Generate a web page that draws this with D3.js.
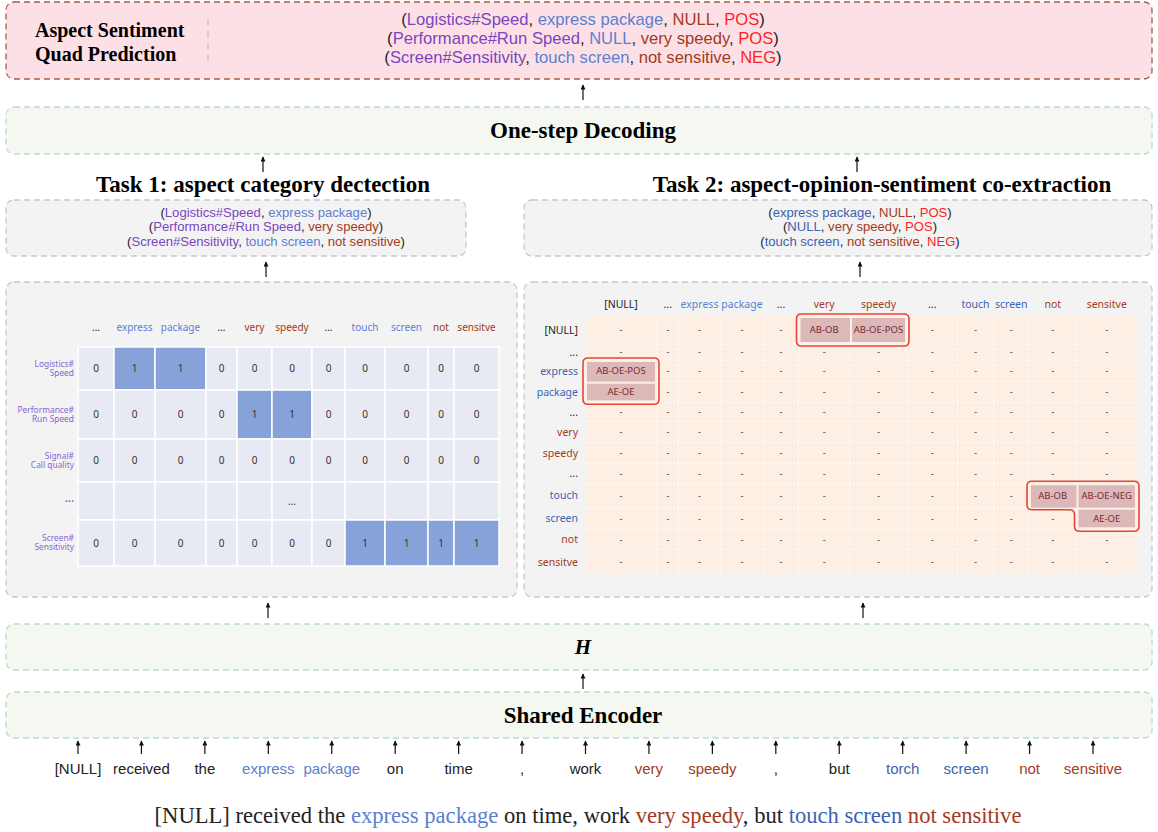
<!DOCTYPE html>
<html lang="en">
<head>
<meta charset="UTF-8">
<title>Aspect Sentiment Quad Prediction</title>
<script src="https://d3js.org/d3.v7.min.js"></script>
<style>
    body { margin: 0; background: #fff; }
    svg { display: block; }
    .serif { font-family: 'Liberation Serif', 'Times New Roman', serif; }
    .sans { font-family: 'Liberation Sans', Arial, sans-serif; }
    .cell { font-family: 'Noto Sans', 'Liberation Sans', sans-serif; }
</style>
</head>
<body>
<div id="chart"></div>
<script>
    // ---- data ----
    const quadLines = [
        [['(', 'k'], ['Logistics#Speed', 'p'], [', ', 'k'], ['express package', 'b'], [', ', 'k'], ['NULL', 'r'], [', ', 'k'], ['POS', 's'], [')', 'k']],
        [['(', 'k'], ['Performance#Run Speed', 'p'], [', ', 'k'], ['NULL', 'b'], [', ', 'k'], ['very speedy', 'r'], [', ', 'k'], ['POS', 's'], [')', 'k']],
        [['(', 'k'], ['Screen#Sensitivity', 'p'], [', ', 'k'], ['touch screen', 'b'], [', ', 'k'], ['not sensitive', 'r'], [', ', 'k'], ['NEG', 's'], [')', 'k']]
    ];
    const task1Lines = [
        [['(', 'k'], ['Logistics#Speed', 'p'], [', ', 'k'], ['express package', 'b'], [')', 'k']],
        [['(', 'k'], ['Performance#Run Speed', 'p'], [', ', 'k'], ['very speedy', 'r'], [')', 'k']],
        [['(', 'k'], ['Screen#Sensitivity', 'p'], [', ', 'k'], ['touch screen', 'b'], [', ', 'k'], ['not sensitive', 'r'], [')', 'k']]
    ];
    const task2Lines = [
        [['(', 'k'], ['express package', 'd'], [', ', 'k'], ['NULL', 'r'], [', ', 'k'], ['POS', 's'], [')', 'k']],
        [['(', 'k'], ['NULL', 'd'], [', ', 'k'], ['very speedy', 'r'], [', ', 'k'], ['POS', 's'], [')', 'k']],
        [['(', 'k'], ['touch screen', 'd'], [', ', 'k'], ['not sensitive', 'r'], [', ', 'k'], ['NEG', 's'], [')', 'k']]
    ];

    const t1Cols = ['...', 'express', 'package', '...', 'very', 'speedy', '...', 'touch', 'screen', 'not', 'sensitve'];
    const t1ColKinds = ['k', 'b', 'b', 'k', 'r', 'r', 'k', 'b', 'b', 'r', 'r'];
    const t1Rows = [['Logistics#', 'Speed'], ['Performance#', 'Run Speed'], ['Signal#', 'Call quality'], ['...'], ['Screen#', 'Sensitivity']];
    const t1Values = [
        [0, 1, 1, 0, 0, 0, 0, 0, 0, 0, 0],
        [0, 0, 0, 0, 1, 1, 0, 0, 0, 0, 0],
        [0, 0, 0, 0, 0, 0, 0, 0, 0, 0, 0],
        [null, null, null, null, null, '...', null, null, null, null, null],
        [0, 0, 0, 0, 0, 0, 0, 1, 1, 1, 1]
    ];

    const t2Cols = ['[NULL]', '...', 'express', 'package', '...', 'very', 'speedy', '...', 'touch', 'screen', 'not', 'sensitve'];
    const t2ColKinds = ['k', 'k', 'b', 'b', 'k', 'r', 'r', 'k', 'd', 'd', 'r', 'r'];
    const t2Rows = ['[NULL]', '...', 'express', 'package', '...', 'very', 'speedy', '...', 'touch', 'screen', 'not', 'sensitve'];
    const t2RowKinds = ['k', 'k', 'd', 'd', 'k', 'r', 'r', 'k', 'd', 'd', 'r', 'r'];
    const t2Tags = [
        { row: 0, col: 5, tag: 'AB-OB' },
        { row: 0, col: 6, tag: 'AB-OE-POS' },
        { row: 2, col: 0, tag: 'AB-OE-POS' },
        { row: 3, col: 0, tag: 'AE-OE' },
        { row: 8, col: 10, tag: 'AB-OB' },
        { row: 8, col: 11, tag: 'AB-OE-NEG' },
        { row: 9, col: 11, tag: 'AE-OE' }
    ];

    const tokens = ['[NULL]', 'received', 'the', 'express', 'package', 'on', 'time', ',', 'work', 'very', 'speedy', ',', 'but', 'torch', 'screen', 'not', 'sensitive'];
    const tokenKinds = ['k', 'k', 'k', 'b', 'b', 'k', 'k', 'k', 'k', 'r', 'r', 'k', 'k', 'd', 'd', 'r', 'r'];
    const sentence = [['[NULL] received the ', 'k'], ['express package', 'b'], [' on time, work ', 'k'], ['very speedy', 'r'], [', but ', 'k'], ['touch screen', 'd'], [' not sensitive', 'r']];

    // ---- styles ----
    const colors = { k: '#222', p: '#7b45c0', b: '#5b80d0', d: '#3d62b0', r: '#a23a22', s: '#ff1f1f' };
    const W = 1158, H = 832;

    const svg = d3.select('#chart').append('svg').attr('width', W).attr('height', H);
    const defs = svg.append('defs');
    defs.append('marker')
        .attr('id', 'head').attr('viewBox', '0 0 10 10').attr('refX', 9).attr('refY', 5)
        .attr('markerWidth', 6).attr('markerHeight', 5).attr('orient', 'auto')
        .attr('markerUnits', 'userSpaceOnUse')
        .append('path').attr('d', 'M0,0 L10,5 L0,10 Z').attr('fill', '#111');

    function box(x, y, w, h, fill, stroke, dash) {
        svg.append('rect').attr('x', x).attr('y', y).attr('width', w).attr('height', h)
            .attr('rx', 8).attr('fill', fill).attr('stroke', stroke).attr('stroke-width', 1.3)
            .attr('stroke-dasharray', dash);
    }
    function arrow(x, y1, y2) {
        svg.append('line').attr('x1', x).attr('x2', x).attr('y1', y1).attr('y2', y2)
            .attr('stroke', '#111').attr('stroke-width', 1.2).attr('marker-end', 'url(#head)');
    }
    function richText(parent, x, y, parts, size, cls) {
        const t = parent.append('text').attr('class', cls).attr('x', x).attr('y', y)
            .attr('text-anchor', 'middle').style('font-size', size + 'px').attr('xml:space', 'preserve');
        parts.forEach(([s, k]) => t.append('tspan').attr('fill', colors[k]).text(s));
        return t;
    }
    function title(x, y, s, size, italic) {
        svg.append('text').attr('class', 'serif').attr('x', x).attr('y', y).attr('text-anchor', 'middle')
            .style('font-size', size + 'px').style('font-weight', 'bold')
            .style('font-style', italic ? 'italic' : 'normal').attr('fill', '#000').text(s);
    }

    // ---- top quad box ----
    box(6, 2, 1146, 77, '#fde0e6', '#a0604a', '6,4');
    svg.append('text').attr('class', 'serif').attr('x', 35).attr('y', 37).style('font-size', '20px')
        .style('font-weight', 'bold').text('Aspect Sentiment');
    svg.append('text').attr('class', 'serif').attr('x', 35).attr('y', 61).style('font-size', '20px')
        .style('font-weight', 'bold').text('Quad Prediction');
    svg.append('line').attr('x1', 208).attr('x2', 208).attr('y1', 19).attr('y2', 61)
        .attr('stroke', '#d9a898').attr('stroke-width', 1).attr('stroke-dasharray', '7,5');
    quadLines.forEach((ln, i) => richText(svg, 583, 25 + i * 19, ln, 16.6, 'sans'));
    arrow(583, 100, 85);

    // ---- one-step decoding ----
    box(6, 107, 1146, 47, '#f5f8f0', '#bcdccb', '6,4');
    title(583, 138, 'One-step Decoding', 23);
    arrow(263, 172, 157);
    arrow(857, 172, 157);
    title(263, 192, 'Task 1: aspect category dectection', 23);
    title(882, 192, 'Task 2: aspect-opinion-sentiment co-extraction', 23);

    // ---- task output boxes ----
    box(6, 200, 460, 56, '#f3f3f3', '#c8c8c8', '6,4');
    box(524, 200, 628, 56, '#f3f3f3', '#c8c8c8', '6,4');
    task1Lines.forEach((ln, i) => richText(svg, 266, 216.5 + i * 14.5, ln, 13.1, 'sans'));
    task2Lines.forEach((ln, i) => richText(svg, 860, 216.5 + i * 14.5, ln, 13.1, 'sans'));
    arrow(266, 277, 262);
    arrow(860, 277, 262);

    // ---- grid panels ----
    box(6, 282, 511, 315, '#f3f3f3', '#c8c8c8', '6,4');
    box(524, 282, 628, 315, '#f3f3f3', '#c8c8c8', '6,4');

    // Task 1 grid: column / row edges (layout)
    const t1ColEdges = [78, 114, 155, 206, 237, 272, 312, 345, 385, 428, 454, 499];
    const t1RowEdges = [347, 390, 439, 482, 520, 566];
    const g1 = svg.append('g');
    const t1Cells = [];
    t1Values.forEach((row, r) => row.forEach((v, c) => t1Cells.push({ r, c, v })));
    g1.selectAll('rect').data(t1Cells).join('rect')
        .attr('x', d => t1ColEdges[d.c]).attr('y', d => t1RowEdges[d.r])
        .attr('width', d => t1ColEdges[d.c + 1] - t1ColEdges[d.c])
        .attr('height', d => t1RowEdges[d.r + 1] - t1RowEdges[d.r])
        .attr('fill', d => d.v === 1 ? '#87a1d9' : '#e8eaf3')
        .attr('stroke', '#fff').attr('stroke-width', 1.5);
    g1.selectAll('text.v').data(t1Cells.filter(d => d.v !== null)).join('text')
        .attr('class', 'v cell')
        .attr('x', d => (t1ColEdges[d.c] + t1ColEdges[d.c + 1]) / 2)
        .attr('y', d => (t1RowEdges[d.r] + t1RowEdges[d.r + 1]) / 2 + 3.5)
        .attr('text-anchor', 'middle').style('font-size', '10px').attr('fill', '#333')
        .text(d => d.v);
    g1.selectAll('text.h').data(t1Cols).join('text')
        .attr('class', 'h cell')
        .attr('x', (d, i) => (t1ColEdges[i] + t1ColEdges[i + 1]) / 2).attr('y', 331)
        .attr('text-anchor', 'middle').style('font-size', '10px')
        .attr('fill', (d, i) => colors[t1ColKinds[i]]).text(d => d);
    t1Rows.forEach((lines, r) => {
        const cy = (t1RowEdges[r] + t1RowEdges[r + 1]) / 2;
        if (lines.length > 1) {
            lines.forEach((s, j) => g1.append('text').attr('class', 'cell').attr('text-anchor', 'end')
                .style('font-size', '8.4px').attr('fill', '#8a66d0')
                .attr('x', 74).attr('y', cy - 2 + j * 9.2).text(s));
        } else {
            g1.append('text').attr('class', 'cell').attr('text-anchor', 'end')
                .style('font-size', '11px').style('font-weight', 'bold').attr('fill', '#8a66d0')
                .attr('x', 74).attr('y', cy + 1).text(lines[0]);
        }
    });

    // Task 2 grid
    const t2ColEdges = [585, 657, 678.5, 720.5, 763.5, 798.5, 850, 907, 957.5, 993.5, 1029, 1076.5, 1137];
    const t2RowEdges = [316, 344, 360, 381.7, 402.3, 421.7, 442.3, 463.3, 483.3, 507.7, 529.3, 550, 574];
    const g2 = svg.append('g');
    g2.append('rect').attr('x', t2ColEdges[0]).attr('y', t2RowEdges[0])
        .attr('width', t2ColEdges[12] - t2ColEdges[0]).attr('height', t2RowEdges[12] - t2RowEdges[0])
        .attr('fill', '#fdefe3');
    t2ColEdges.slice(1, -1).forEach(x => g2.append('line').attr('x1', x).attr('x2', x)
        .attr('y1', t2RowEdges[0]).attr('y2', t2RowEdges[12])
        .attr('stroke', '#fff').attr('stroke-dasharray', '2,2'));
    t2RowEdges.slice(1, -1).forEach(y => g2.append('line').attr('y1', y).attr('y2', y)
        .attr('x1', t2ColEdges[0]).attr('x2', t2ColEdges[12])
        .attr('stroke', '#fff').attr('stroke-dasharray', '2,2'));
    const tagMap = new Map(t2Tags.map(d => [d.row + '_' + d.col, d.tag]));
    const t2Cells = [];
    t2Rows.forEach((_, r) => t2Cols.forEach((_, c) => t2Cells.push({ r, c, tag: tagMap.get(r + '_' + c) })));
    g2.selectAll('rect.tag').data(t2Cells.filter(d => d.tag)).join('rect')
        .attr('class', 'tag')
        .attr('x', d => t2ColEdges[d.c] + 2).attr('y', d => t2RowEdges[d.r] + 2)
        .attr('width', d => t2ColEdges[d.c + 1] - t2ColEdges[d.c] - (d.c === 5 || d.c === 10 ? 2 : 4))
        .attr('height', d => t2RowEdges[d.r + 1] - t2RowEdges[d.r] - (d.r === 2 || d.r === 8 ? 2 : 4))
        .attr('fill', '#dcb8b8');
    g2.selectAll('text.v').data(t2Cells).join('text')
        .attr('class', 'v cell')
        .attr('x', d => (t2ColEdges[d.c] + t2ColEdges[d.c + 1]) / 2)
        .attr('y', d => (t2RowEdges[d.r] + t2RowEdges[d.r + 1]) / 2 + 3.3)
        .attr('text-anchor', 'middle').style('font-size', '9.5px')
        .attr('fill', d => d.tag ? '#7a2a33' : '#444')
        .text(d => d.tag || '-');
    g2.selectAll('text.h').data(t2Cols).join('text')
        .attr('class', 'h cell')
        .attr('x', (d, i) => (t2ColEdges[i] + t2ColEdges[i + 1]) / 2).attr('y', 308)
        .attr('text-anchor', 'middle').style('font-size', '10.5px')
        .attr('fill', (d, i) => colors[t2ColKinds[i]]).text(d => d);
    g2.selectAll('text.rl').data(t2Rows).join('text')
        .attr('class', 'rl cell')
        .attr('x', 578).attr('y', (d, i) => (t2RowEdges[i] + t2RowEdges[i + 1]) / 2 + 3.8)
        .attr('text-anchor', 'end').style('font-size', '10.5px')
        .attr('fill', (d, i) => colors[t2RowKinds[i]]).text(d => d);

    // red outlines with rounded corners
    function roundedPoly(pts, r) {
        const n = pts.length;
        let d = '';
        pts.forEach((p, i) => {
            const prev = pts[(i - 1 + n) % n], next = pts[(i + 1) % n];
            const v1 = [prev[0] - p[0], prev[1] - p[1]], v2 = [next[0] - p[0], next[1] - p[1]];
            const l1 = Math.hypot(...v1), l2 = Math.hypot(...v2);
            const a = [p[0] + v1[0] / l1 * r, p[1] + v1[1] / l1 * r];
            const b = [p[0] + v2[0] / l2 * r, p[1] + v2[1] / l2 * r];
            d += (i === 0 ? 'M' : 'L') + a[0] + ',' + a[1] + 'Q' + p[0] + ',' + p[1] + ' ' + b[0] + ',' + b[1];
        });
        return d + 'Z';
    }
    const cx = t2ColEdges, ry = t2RowEdges, m = 2;
    const outlines = [
        [[cx[5] - m, ry[0] - m], [cx[7] + m, ry[0] - m], [cx[7] + m, ry[1] + m], [cx[5] - m, ry[1] + m]],
        [[cx[0] - m, ry[2] - m], [cx[1] + m, ry[2] - m], [cx[1] + m, ry[4] + m], [cx[0] - m, ry[4] + m]],
        [[cx[10] - m, ry[8] - m], [cx[12] + m, ry[8] - m], [cx[12] + m, ry[10] + m], [cx[11] - m, ry[10] + m],
         [cx[11] - m, ry[9] + m], [cx[10] - m, ry[9] + m]]
    ];
    g2.selectAll('path.ol').data(outlines).join('path')
        .attr('class', 'ol').attr('d', d => roundedPoly(d, 5))
        .attr('fill', 'none').attr('stroke', '#ea4436').attr('stroke-width', 1.6);

    arrow(268, 618, 603);
    arrow(863, 618, 603);

    // ---- H and encoder ----
    box(6, 624, 1146, 46, '#f5f8f0', '#bcdccb', '6,4');
    title(583, 654, 'H', 21, true);
    arrow(583, 689, 674);
    box(6, 692, 1146, 46, '#f5f8f0', '#bcdccb', '6,4');
    title(583, 723, 'Shared Encoder', 23);

    // ---- tokens ----
    const tx = d3.scalePoint().domain(d3.range(tokens.length)).range([78, 1093]);
    tokens.forEach((t, i) => arrow(tx(i), 754, 741));
    svg.selectAll('text.tok').data(tokens).join('text')
        .attr('class', 'tok sans')
        .attr('x', (d, i) => tx(i)).attr('y', 774)
        .attr('text-anchor', 'middle').style('font-size', '15px')
        .attr('fill', (d, i) => colors[tokenKinds[i]]).text(d => d);

    richText(svg, 588, 823, sentence, 22.6, 'serif');
</script>
</body>
</html>
